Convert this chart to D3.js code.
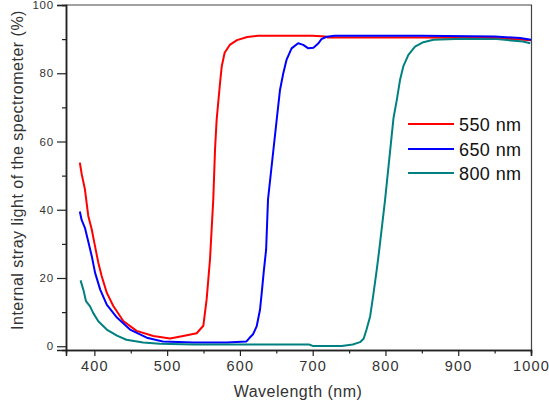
<!DOCTYPE html>
<html><head><meta charset="utf-8">
<script src="https://cdn.jsdelivr.net/npm/d3@7"></script>
<style>body{margin:0;background:#fff}svg{display:block}text{font-family:"Liberation Sans",Arial,sans-serif}</style>
</head><body>
<script>
const seriesNames = ["550 nm", "650 nm", "800 nm"];
const seriesColors = ["#ff0000", "#0000ff", "#008080"];
const xTicks = [400, 500, 600, 700, 800, 900, 1000];
const yTicks = [0, 20, 40, 60, 80, 100];

const red550 = [[380,53.8],[382.6,50.4],[387,46],[391.6,38.2],[396.3,34.3],[400.8,29.4],[405.4,24.5],[410,20.6],[417,15.7],[426,11.8],[439.7,7.4],[458,4.5],[481,3.0],[504,2.3],[522,3.0],[540.6,3.8],[549.7,6.0],[554.3,13.8],[558.9,25.5],[563.4,43.1],[565.8,57.7],[568,66.3],[572.6,77],[575,82],[579,86],[586,88.3],[596,89.7],[610,90.6],[625,91],[700,91],[717,90.8],[720,90.5],[850,90.5],[950,90.3],[1000,89.7]];
const blue650 = [[380,39.5],[382.5,37],[387,34.7],[392,30.3],[396.5,26.3],[401,21.5],[408,16.6],[417,12.2],[431,8.4],[449,4.9],[472,2.5],[494,1.4],[536,1.1],[582,1.1],[609,1.4],[613,2.4],[618,3.5],[623,5.8],[627.6,10.7],[630,15.7],[633,22.4],[636,28.3],[638.6,43],[650.5,66.3],[655,75],[659.6,80],[664,83.9],[671,87.3],[680,88.8],[687,88.3],[694,87.3],[701,87.5],[708,88.8],[712,90],[719,90.7],[730,91],[850,91],[950,90.8],[985,90.3],[1000,89.8]];
const teal800 = [[381,19.3],[384.8,16.6],[388.5,13.2],[394,11.7],[398.5,9.7],[405.4,7.3],[417,4.9],[431,3.1],[444,1.9],[467,1.1],[490,0.7],[536,0.5],[695,0.5],[700,0.1],[740,0.1],[755,0.5],[765,1.2],[770,2.2],[774,4.9],[779,8.8],[783,14.6],[788,22.4],[791.5,28.3],[799.5,43],[811,66.8],[815.6,72.2],[820,78],[824.5,82],[831.5,85.4],[840.6,87.8],[852,89.1],[866,89.8],[906,90.1],[953,90],[989,89.3],[999,88.8]];
const seriesData = [red550, blue650, teal800];

const W = 549, H = 405;
const svg = d3.select("body").append("svg").attr("width", W).attr("height", H);
const x = d3.scaleLinear().domain([361, 1000]).range([66, 531]);
const y = d3.scaleLinear().domain([-1.1, 100]).range([350, 5]);

// frame top/right
svg.append("line").attr("x1",66).attr("x2",532).attr("y1",5).attr("y2",5).attr("stroke","#444").attr("stroke-width",1.2);
svg.append("line").attr("x1",531.5).attr("x2",531.5).attr("y1",5).attr("y2",350).attr("stroke","#444").attr("stroke-width",1.2);

// lines
const line = d3.line().x(d => x(d[0])).y(d => y(d[1]));
seriesData.forEach((s, i) => {
  svg.append("path").datum(s).attr("d", line).attr("fill","none")
    .attr("stroke", seriesColors[i]).attr("stroke-width", 2).attr("stroke-linejoin","round");
});

// x axis
const xMinor = d3.range(350, 1001, 50).filter(v => v >= 361 && !xTicks.includes(v));
const gx = svg.append("g").attr("transform","translate(0,350)");
gx.call(d3.axisBottom(x).tickValues(xMinor).tickSize(3.5).tickFormat(""));
gx.call(g => g.append("g").call(d3.axisBottom(x).tickValues(xTicks).tickSize(6).tickPadding(5).tickFormat(d3.format("d"))));
gx.selectAll(".domain").attr("stroke","#222").attr("stroke-width",1.5);
gx.selectAll("line").attr("stroke","#222").attr("stroke-width",1.2);
gx.selectAll("text").attr("font-size","14.5px").attr("fill","#333").style("letter-spacing","1.2px").attr("font-family","Liberation Sans, Arial, sans-serif");

// y axis
const yMinor = [10, 30, 50, 70, 90];
const gy = svg.append("g").attr("transform","translate(66,0)");
gy.call(d3.axisLeft(y).tickValues(yMinor).tickSize(4).tickFormat(""));
gy.call(g => g.append("g").call(d3.axisLeft(y).tickValues(yTicks).tickSize(9).tickPadding(3).tickFormat(d3.format("d"))));
gy.selectAll(".domain").attr("stroke","#222").attr("stroke-width",1.5);
gy.selectAll("line").attr("stroke","#222").attr("stroke-width",1.2);
gy.selectAll("text").attr("font-size","11.5px").attr("fill","#333").style("letter-spacing","0.8px").attr("font-family","Liberation Sans, Arial, sans-serif");

// axis labels
svg.append("text").attr("x", 298).attr("y", 397).attr("text-anchor","middle")
  .attr("font-size","16px").attr("fill","#333").style("letter-spacing","0.5px").text("Wavelength (nm)");
svg.append("text").attr("transform","translate(23,170) rotate(-90)").attr("text-anchor","middle")
  .attr("font-size","16px").attr("fill","#333").style("letter-spacing","0.5px").text("Internal stray light of the spectrometer  (%)");

// legend
const legY = [124, 149, 173];
seriesNames.forEach((n, i) => {
  svg.append("line").attr("x1",408).attr("x2",454).attr("y1",legY[i]).attr("y2",legY[i])
    .attr("stroke", seriesColors[i]).attr("stroke-width",2);
  svg.append("text").attr("x",459).attr("y",legY[i]+7).attr("font-size","18px").attr("fill","#111")
    .style("letter-spacing","0.4px").text(n);
});
</script>
</body></html>
